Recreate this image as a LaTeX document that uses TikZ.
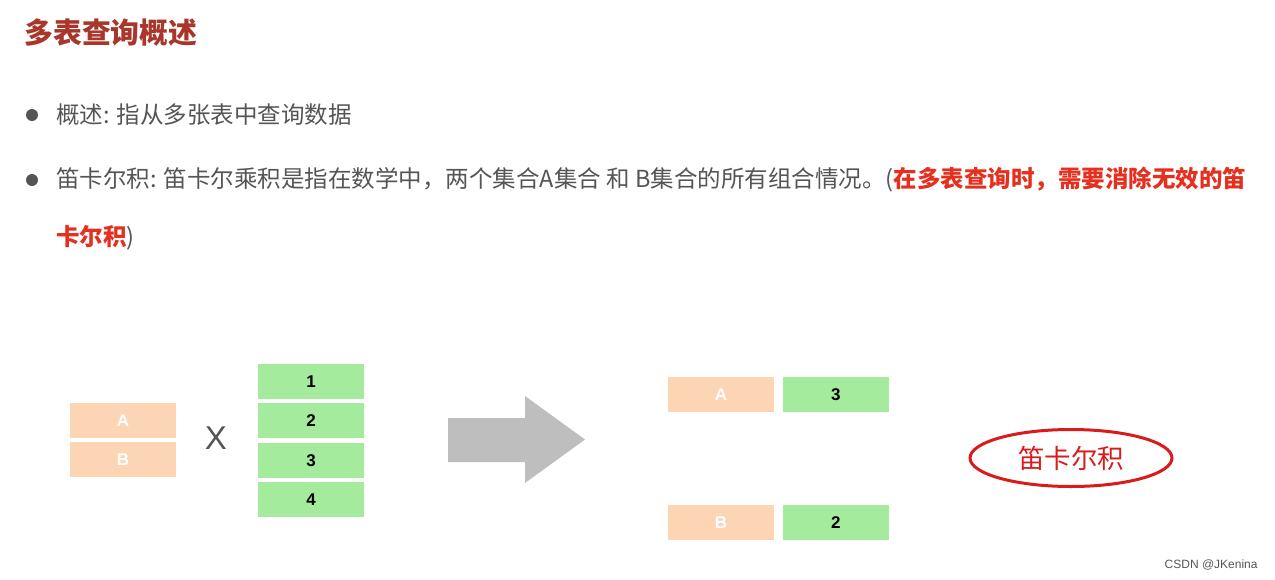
\documentclass[tikz,border=0pt]{standalone}
\usepackage{fontspec}
\setmainfont{Noto Sans CJK SC}
\newfontfamily\latinfont{Liberation Sans}
\usetikzlibrary{positioning,shapes.geometric}
\definecolor{TitleRed}{HTML}{A9362B}
\definecolor{TextGrey}{HTML}{555555}
\definecolor{AlertRed}{HTML}{E5301F}
\definecolor{Peach}{HTML}{FCD5B4}
\definecolor{SoftGreen}{HTML}{A4EB9E}
\definecolor{ArrowGrey}{HTML}{BEBEBE}
\definecolor{CircleRed}{HTML}{D81B1B}

\begin{document}
\begin{tikzpicture}[x=0.5pt,y=-0.5pt,
  titletext/.style={anchor=west,inner sep=0pt,text=TitleRed,font=\fontsize{14.4}{16}\selectfont\bfseries},
  bodytext/.style={anchor=west,inner sep=0pt,text=TextGrey,font=\fontsize{11.75}{14}\selectfont},
  bulletdot/.style={circle,fill=TextGrey,inner sep=0pt,minimum size=6pt},
  letterbox/.style={fill=Peach,minimum width=53pt,minimum height=17.5pt,inner sep=0pt,text=white,font=\latinfont\bfseries\fontsize{8.5}{10}\selectfont},
  numberbox/.style={fill=SoftGreen,minimum width=53pt,minimum height=17.5pt,inner sep=0pt,text=black,font=\latinfont\bfseries\fontsize{8.5}{10}\selectfont},
  result/.style={ellipse,draw=CircleRed,line width=1.5pt,minimum width=101pt,minimum height=28.5pt,inner sep=0pt,text=CircleRed,font=\fontsize{13.2}{15}\selectfont},
  node distance=1.8pt
]
\useasboundingbox (0,0) rectangle (1275,579);

\node[titletext] (title) at (24,33) {多表查询概述};

\node[bulletdot] (dot1) at (32,115) {};
\node[bodytext] (line1) at (56,115) {概述: 指从多张表中查询数据};
\node[bulletdot] (dot2) at (32,180) {};
\node[bodytext] (line2) at (56,180) {笛卡尔积: 笛卡尔乘积是指在数学中，两个集合A集合 和 B集合的所有组合情况。(\textcolor{AlertRed}{\bfseries 在多表查询时，需要消除无效的笛}};
\node[bodytext] (line3) at (56,238) {\textcolor{AlertRed}{\bfseries 卡尔积})};

\node[letterbox] (a) at (123,420.5) {A};
\node[letterbox,below=of a] (b) {B};

\node[text=TextGrey,inner sep=0pt,font=\latinfont\fontsize{16.5}{18}\selectfont] (times) at (216,438) {X};

\node[numberbox] (n1) at (311,381.5) {1};
\node[numberbox,below=of n1] (n2) {2};
\node[numberbox,below=of n2] (n3) {3};
\node[numberbox,below=of n3] (n4) {4};

\fill[ArrowGrey] (448,418) -- (525,418) -- (525,396) -- (585,439.5) -- (525,483) -- (525,462) -- (448,462) -- cycle;

\node[letterbox] (ra) at (721,394.5) {A};
\node[numberbox,right=4pt of ra] (r3) {3};
\node[letterbox] (rb) at (721,522.5) {B};
\node[numberbox,right=4pt of rb] (r2) {2};

\node[result] (cartesian) at (1071,458) {笛卡尔积};

\node[anchor=east,inner sep=0pt,text=TextGrey,font=\latinfont\fontsize{6}{7}\selectfont] (mark) at (1258,565) {CSDN @JKenina};
\end{tikzpicture}
\end{document}
